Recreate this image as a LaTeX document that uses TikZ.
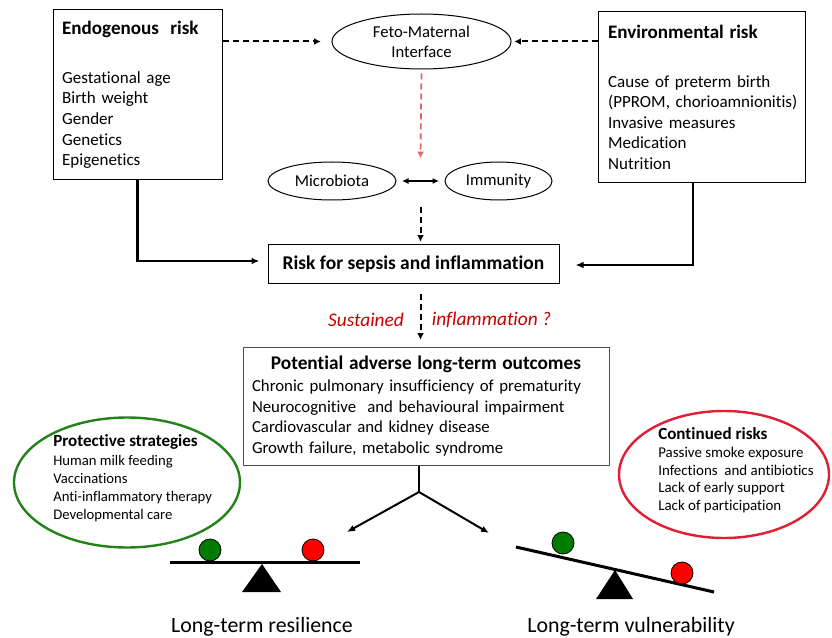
\documentclass[tikz,border=0pt]{standalone}
\usepackage{fontspec}
\setmainfont{Carlito}[Ligatures=NoCommon]
\usetikzlibrary{shapes.geometric,arrows.meta,positioning,calc}
\definecolor{fetored}{RGB}{224,100,100}
\definecolor{sustred}{RGB}{200,0,0}
\definecolor{protgreen}{RGB}{35,130,25}
\definecolor{contred}{RGB}{225,30,50}
\definecolor{ballgreen}{RGB}{0,125,0}
\tikzset{
  riskbox/.style={draw,line width=0.75pt,inner sep=0pt,align=left,font=\fontsize{12.75}{15.4}\selectfont},
  oval/.style={draw,ellipse,line width=0.75pt,inner sep=0pt,align=center,font=\fontsize{12.5}{15}\selectfont},
  bigoval/.style={draw,ellipse,line width=1.8pt,inner sep=0pt},
  dasharrow/.style={line width=1.5pt,dash pattern=on 4.5pt off 3pt,-{Latex[length=5pt,width=5pt]}},
  linkarrow/.style={line width=1.8pt,-{Latex[length=6pt,width=5pt]}},
  ball/.style={circle,draw,line width=0.6pt,minimum size=16.5pt,inner sep=0pt},
  balance/.style={font=\fontsize{16.4}{19}\selectfont}
}
\begin{document}
\begin{tikzpicture}[x=0.75pt,y=-0.75pt]
\useasboundingbox (0,0) rectangle (832,638);
% risk boxes and interface
\node[riskbox,minimum width=126.75pt,minimum height=127.5pt,text width=113pt](endo)at(137.5,95){{\fontsize{14.3}{16}\selectfont\bfseries Endogenous\ \ risk}\\[21pt]Gestational age\\Birth weight\\Gender\\Genetics\\Epigenetics};
\node[riskbox,minimum width=155.25pt,minimum height=128.25pt,text width=140pt](env)at(701.5,97.5){{\fontsize{14.3}{16}\selectfont\bfseries Environmental risk}\\[21pt]Cause of preterm birth\\\mbox{(PPROM, chorioamnionitis)}\\Invasive measures\\Medication\\Nutrition};
\node[oval,minimum width=134.25pt,minimum height=41.25pt](feto)at(421.5,41.5){Feto-Maternal\\Interface};
\node[oval,minimum width=96pt,minimum height=28.5pt](micro)at(332,181){Microbiota};
\node[oval,minimum width=80.25pt,minimum height=28.5pt](immu)at(498.5,181){Immunity};
\coordinate(hub)at($(micro.east)!.5!(immu.west)$);
\node[riskbox,minimum width=218.25pt,minimum height=28.5pt,align=center,font=\fontsize{14.6}{17}\selectfont\bfseries](risk)at(413.5,264){Risk for sepsis and inflammation};
\node[riskbox,draw=black!70,minimum width=274.5pt,minimum height=88.5pt,text width=261pt,font=\fontsize{12.6}{15.4}\selectfont](outc)at(426,406){\makebox[261pt]{\fontsize{14.5}{17}\selectfont\bfseries Potential adverse long-term outcomes}\\[1pt]Chronic pulmonary insufficiency of prematurity\\Neurocognitive\ \ and behavioural impairment\\Cardiovascular and kidney disease\\Growth failure, metabolic syndrome};
% connectors
\draw[dasharrow,shorten >=8pt](feto.west -| endo.east)--(feto.west);
\draw[dasharrow,shorten >=2pt](feto.east -| env.west)--(feto.east);
\draw[dasharrow,fetored,line width=1.3pt,shorten <=3pt](feto.south)--([yshift=17pt]hub);
\draw[{Latex[length=5pt,width=4.5pt]}-{Latex[length=5pt,width=4.5pt]},line width=1.5pt,shorten <=4pt,shorten >=4pt](micro.east)--(immu.west);
\draw[dasharrow,shorten >=2pt]([yshift=-19.5pt]hub)--(hub |- risk.north);
\draw[linkarrow,shorten >=6pt](endo.south)|-([yshift=2.25pt]risk.west);
\draw[linkarrow,shorten >=12pt]([xshift=-6.4pt]env.south)|-([yshift=-0.75pt]risk.east);
\draw[dasharrow,shorten <=7.5pt,shorten >=5pt](hub |- risk.south)--(hub |- outc.north);
\node[text=sustred,font=\fontsize{14.5}{17}\selectfont\itshape](sust)at(366,320){Sustained};
\node[text=sustred,font=\fontsize{14.5}{17}\selectfont\itshape](infl)at(491.5,320){inflammation ?};
% fork to the two balances
\coordinate(split)at(419,492);
\coordinate(resl)at(347,532);
\coordinate(vuln)at(489,533);
\draw[line width=1.8pt](split |- outc.south)--(split);
\draw[linkarrow,line width=1.5pt](split)--(resl);
\draw[linkarrow,line width=1.5pt](split)--(vuln);
% protective and continued
\node[bigoval,draw=protgreen,minimum width=169.5pt,minimum height=97.5pt](prot)at(127,482.5){};
\node[anchor=west,align=left,inner sep=0pt,font=\fontsize{11}{13.5}\selectfont](protx)at(53,478.5){{\fontsize{12.8}{15}\selectfont\bfseries Protective strategies}\\[0.5pt]Human milk feeding\\Vaccinations\\Anti-inflammatory therapy\\Developmental care};
\node[bigoval,draw=contred,minimum width=157.5pt,minimum height=95.25pt](cont)at(724,474.5){};
\node[anchor=west,align=left,inner sep=0pt,font=\fontsize{11.2}{13.1}\selectfont](contx)at(658,470){{\fontsize{12.8}{15}\selectfont\bfseries Continued risks}\\[1pt]Passive smoke exposure\\Infections\ \ and antibiotics\\Lack of early support\\Lack of participation};
% balances
\draw[line width=2.25pt](170,562)--(360,562);
\fill(262,564)--(281,592)--(242,592)--cycle;
\node[ball,fill=ballgreen](lgreen)at(210,550){};
\node[ball,fill=red](lred)at(313,550){};
\draw[line width=2.25pt](516,547)--(714,592);
\fill(615,570)--(633,599)--(596,599)--cycle;
\node[ball,fill=ballgreen](rgreen)at(563,543){};
\node[ball,fill=red](rred)at(682,573){};
\node[balance](reslabel)at(262,627){Long-term resilience};
\node[balance](vulnlabel)at(631,627){Long-term vulnerability};
\end{tikzpicture}
\end{document}
